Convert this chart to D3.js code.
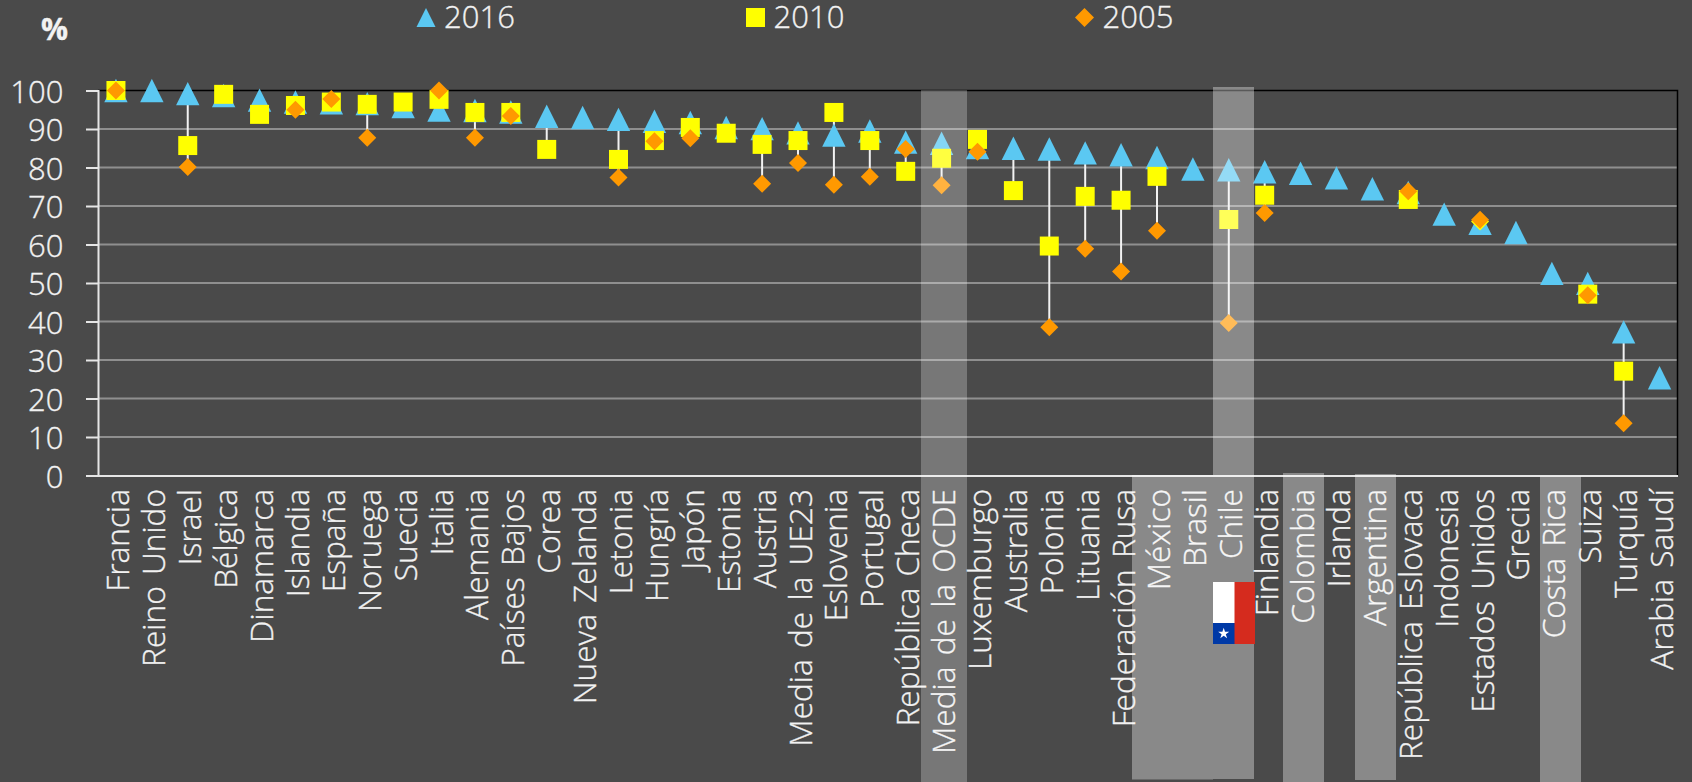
<!DOCTYPE html>
<html>
<head>
<meta charset="utf-8">
<script src="https://cdn.jsdelivr.net/npm/d3@7"></script>
<style>
  html, body { margin: 0; padding: 0; background: #4a4a4a; overflow: hidden; }
  text { font-family: "Open Sans", "Noto Sans", sans-serif; font-weight: 300; fill: #f2f2f2; stroke: #f2f2f2; stroke-width: 0.35px; }
</style>
</head>
<body>
<div id="chart"></div>
<script>
const categories = ['Francia', 'Reino Unido', 'Israel', 'Bélgica', 'Dinamarca', 'Islandia', 'España', 'Noruega', 'Suecia', 'Italia',
    'Alemania', 'Países Bajos', 'Corea', 'Nueva Zelanda', 'Letonia', 'Hungría', 'Japón', 'Estonia', 'Austria', 'Media de la UE23',
    'Eslovenia', 'Portugal', 'República Checa', 'Media de la OCDE', 'Luxemburgo', 'Australia', 'Polonia', 'Lituania', 'Federación Rusa', 'México',
    'Brasil', 'Chile', 'Finlandia', 'Colombia', 'Irlanda', 'Argentina', 'República Eslovaca', 'Indonesia', 'Estados Unidos', 'Grecia',
    'Costa Rica', 'Suiza', 'Turquía', 'Arabia Saudí'];

const values2016 = [100, 100, 99.2, 98.7, 97.5, 97, 96.8, 96.6, 95.8, 94.9,
    94.8, 94.4, 93.3, 93, 92.5, 92, 91.7, 90.4, 90.1, 89,
    88.4, 89.5, 86.6, 86.3, 85.2, 85, 84.8, 83.8, 83.3, 82.6,
    79.6, 79.4, 78.9, 78.5, 77.3, 74.5, 73.5, 67.9, 65.5, 63.1,
    52.5, 49.9, 37.3, 25.4];
const values2010 = [100, null, 85.7, 99, 93.8, 96.1, 97, 96.4, 97, 97.7,
    94.3, 94.3, 84.7, null, 82.1, 87, 90.4, 88.9, 86, 87,
    94.3, 87, 79, 82.4, 87.3, 74, 59.6, 72.5, 71.5, 77.7,
    null, 66.5, 72.8, null, null, null, 71.7, null, 66, null,
    null, 47.1, 27.1, null];
const values2005 = [100, null, 80.1, null, null, 95, 97.8, 87.7, null, 100,
    87.7, 93.4, null, null, 77.4, 86.8, 87.6, null, 75.8, 81.2,
    75.5, 77.6, 84.8, 75.4, 84.1, null, 38.5, 58.9, 53, 63.6,
    null, 39.6, 68.2, null, null, null, 73.8, null, 66.4, null,
    null, 46.8, 13.6, null];

const yTicks = d3.range(0, 101, 10);

const outerWidth = 1692;
const outerHeight = 782;
const margin = { top: 90.5, right: 14.5, bottom: 306.5, left: 98 };
const width = outerWidth - margin.left - margin.right;
const height = outerHeight - margin.top - margin.bottom;

// the font is a bit wider than the original one
const squeeze = 0.97;

const svgRoot = d3.select('#chart').append('svg')
    .attr('width', outerWidth)
    .attr('height', outerHeight)
    .style('display', 'block');

const svg = svgRoot.append('g')
    .attr('transform', `translate(${margin.left}, ${margin.top})`);

// Init Scales
const x = d3.scaleBand().domain(categories).range([0, width]);
const y = d3.scaleLinear().domain([0, 100]).range([height, 0]);
const cx = (c) => x(c) + x.bandwidth() / 2;

// Gridlines
svg.append('g').selectAll('line')
    .data(yTicks.filter((d) => d > 0 && d < 100))
    .join('line')
    .attr('x1', 0)
    .attr('x2', width)
    .attr('y1', (d) => y(d))
    .attr('y2', (d) => y(d))
    .attr('stroke', '#8f8f8f')
    .attr('stroke-width', 2);

// Frame, black on top and right
svg.append('path')
    .attr('d', `M0,0H${width}V${height}`)
    .attr('fill', 'none')
    .attr('stroke', '#000')
    .attr('stroke-width', 1.5);

// Add Axis
const yAxis = d3.axisLeft(y).tickValues(yTicks).tickSize(12);
const gy = svg.append('g').call(yAxis);
gy.select('.domain').attr('stroke', '#e6e6e6').attr('stroke-width', 2);
gy.selectAll('.tick line').attr('stroke', '#e6e6e6').attr('stroke-width', 2);
gy.selectAll('.tick text')
    .style('font-size', '32px')
    .attr('fill', '#f2f2f2')
    .attr('x', 0)
    .attr('dy', '0.36em')
    .attr('transform', `translate(-34.5, 0) scale(${squeeze}, 1)`);

const xAxis = d3.axisBottom(x).tickSize(0);
const gx = svg.append('g').attr('transform', `translate(0, ${height})`).call(xAxis);
gx.select('.domain').attr('stroke', '#e6e6e6').attr('stroke-width', 2);
gx.selectAll('.tick text')
    .style('font-size', '32px')
    .style('word-spacing', '3px')
    .attr('fill', '#f2f2f2')
    .attr('text-anchor', 'end')
    .attr('x', 0)
    .attr('y', 0)
    .attr('dy', 0)
    .attr('transform', 'translate(13.5, 13.5) rotate(-90) scale(0.99, 1)');

// High-low lines behind the markers
const rows = categories.map((c, i) => ({
    c: c,
    vals: [values2016[i], values2010[i], values2005[i]].filter((v) => v !== null)
}));
svg.append('g').selectAll('line')
    .data(rows.filter((d) => d.vals.length > 1))
    .join('line')
    .attr('x1', (d) => cx(d.c))
    .attr('x2', (d) => cx(d.c))
    .attr('y1', (d) => y(d3.max(d.vals)))
    .attr('y2', (d) => y(d3.min(d.vals)))
    .attr('stroke', '#f2f2f2')
    .attr('stroke-width', 2);

// Markers
const triangle = 'M0,-11.7L11.7,11.7H-11.7Z';
const square = 'M-9.5,-9.5H9.5V9.5H-9.5Z';
const diamond = 'M0,-9L9,0L0,9L-9,0Z';
const legendTriangle = 'M0,-9.5L9.5,9.5H-9.5Z';
const legendDiamond = 'M0,-9.5L9.5,0L0,9.5L-9.5,0Z';

const series = [
    { values: values2016, path: () => triangle, color: '#5bc8f2' },
    // Estados Unidos 2010 is a yellow diamond in the original
    { values: values2010, path: (c) => (c === 'Estados Unidos' ? diamond : square), color: '#ffff00' },
    { values: values2005, path: () => diamond, color: '#ff9900' }
];

series.forEach((s) => {
    svg.append('g').selectAll('path')
        .data(categories.map((c, i) => ({ c: c, v: s.values[i] })).filter((d) => d.v !== null))
        .join('path')
        .attr('d', (d) => s.path(d.c))
        .attr('transform', (d) => `translate(${cx(d.c)}, ${y(d.v)})`)
        .attr('fill', s.color);
});

// Highlight strips laid by hand over the chart, they do not follow the bands
const strips = [
    { x1: 921, x2: 967, y1: 90, y2: 782, opacity: 0.25 },
    { x1: 1132, x2: 1213, y1: 475, y2: 779.5, opacity: 0.35 },
    { x1: 1213, x2: 1254, y1: 87, y2: 779, opacity: 0.35 },
    { x1: 1283, x2: 1324, y1: 473, y2: 782, opacity: 0.35 },
    { x1: 1355, x2: 1396, y1: 474, y2: 780, opacity: 0.35 },
    { x1: 1540, x2: 1581, y1: 476.5, y2: 782, opacity: 0.35 }
];
svgRoot.append('g').selectAll('rect')
    .data(strips)
    .join('rect')
    .attr('x', (d) => d.x1)
    .attr('width', (d) => d.x2 - d.x1)
    .attr('y', (d) => d.y1)
    .attr('height', (d) => d.y2 - d.y1)
    .attr('fill', '#fff')
    .attr('opacity', (d) => d.opacity);

// Legend
const legendItems = [
    { label: '2016', path: legendTriangle, color: '#5bc8f2', x: 426 },
    { label: '2010', path: square, color: '#ffff00', x: 755.5 },
    { label: '2005', path: legendDiamond, color: '#ff9900', x: 1084.5 }
];
const legend = svgRoot.append('g').selectAll('g')
    .data(legendItems)
    .join('g')
    .attr('transform', (d) => `translate(${d.x}, 17.5)`);
legend.append('path').attr('d', (d) => d.path).attr('fill', (d) => d.color);
legend.append('text')
    .attr('dy', 10.5)
    .attr('transform', `translate(18, 0) scale(${squeeze}, 1)`)
    .style('font-size', '32px')
    .text((d) => d.label);

svgRoot.append('text')
    .attr('x', 41)
    .attr('y', 40)
    .style('font-size', '30px')
    .style('font-weight', 700)
    .text('%');

// Chilean flag
const flag = svgRoot.append('g').attr('transform', 'translate(1213, 582)');
flag.append('rect').attr('width', 42).attr('height', 62).attr('fill', '#d52b1e');
flag.append('rect').attr('width', 21.5).attr('height', 41).attr('fill', '#fff');
flag.append('rect').attr('y', 41).attr('width', 21.5).attr('height', 21).attr('fill', '#0039a6');
flag.append('path')
    .attr('d', d3.symbol().type(d3.symbolStar).size(38))
    .attr('transform', 'translate(10.7, 51.5)')
    .attr('fill', '#fff');
</script>
</body>
</html>
